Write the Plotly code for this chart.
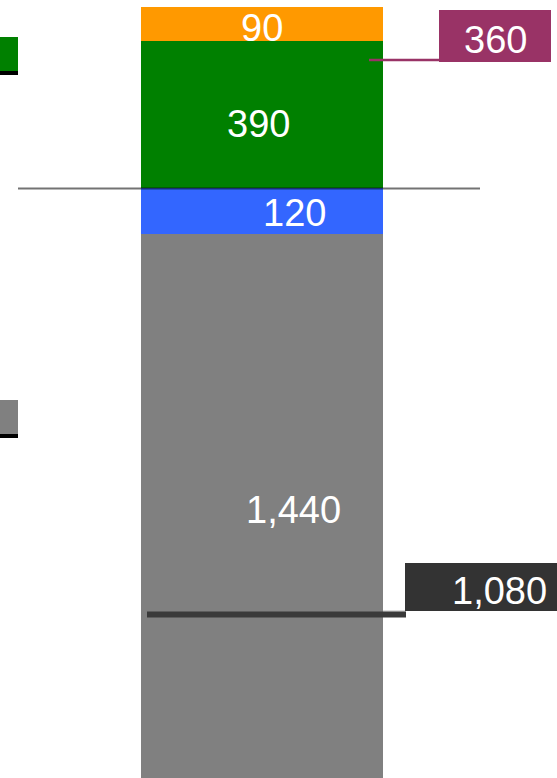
import plotly.graph_objects as go

# single stacked bar, bottom to top
categories = ["Total"]
segment_names = ["Base", "Blue", "Green", "Orange"]
segment_values = [1440, 120, 390, 90]
segment_colors = ["#808080", "#3366FF", "#008000", "#FF9900"]

# callout values
callout_values = [360, 1080]

W, H = 557, 778
FONT = "Liberation Sans, Arial, sans-serif"


def px(x):
    return x / W


def py(y):
    return 1 - y / H


fig = go.Figure()
for name, val, col in zip(segment_names, segment_values, segment_colors):
    fig.add_trace(go.Bar(
        name=name,
        x=[0],
        y=[val],
        marker=dict(color=col, line_width=0),
        width=1,
        hoverinfo="skip",
    ))

fig.update_layout(
    barmode="stack",
    width=W, height=H,
    margin=dict(l=0, r=0, t=0, b=0),
    paper_bgcolor="white",
    plot_bgcolor="white",
    showlegend=False,
    xaxis=dict(range=[-262 / 242, 295 / 242], visible=False, fixedrange=True),
    yaxis=dict(range=[0, 2058.5], visible=False, fixedrange=True),
)

# segment labels, nudged like the original
label_shifts = [(31, -4.5), (32, -1.5), (-4, -9.5), (0, -3.5)]
base = 0
for val, (dx, dy) in zip(segment_values, label_shifts):
    fig.add_annotation(
        x=0, y=base + val / 2, xref="x", yref="y",
        text=f"{val:,}", showarrow=False,
        xshift=dx, yshift=dy,
        xanchor="center", yanchor="middle",
        font=dict(family=FONT, size=38, color="white"),
    )
    base += val

# connector line at top of blue segment
fig.add_shape(type="line", xref="paper", yref="y",
              x0=px(18), x1=px(480),
              y0=sum(segment_values[:2]), y1=sum(segment_values[:2]),
              line=dict(color="rgba(0,0,0,0.55)", width=2))

# maroon callout
fig.add_shape(type="line", xref="paper", yref="paper",
              x0=px(369), x1=px(440), y0=py(60), y1=py(60),
              line=dict(color="#993366", width=2.5))
fig.add_shape(type="rect", xref="paper", yref="paper",
              x0=px(439), x1=px(551), y0=py(62), y1=py(10),
              fillcolor="#993366", line_width=0)
fig.add_annotation(x=px(495), y=py(40), xref="paper", yref="paper",
                   text=f"{callout_values[0]:,}", showarrow=False,
                   xanchor="center", yanchor="middle",
                   font=dict(family=FONT, size=38, color="white"))

# dark callout
fig.add_shape(type="line", xref="paper", yref="paper",
              x0=px(383), x1=px(406), y0=py(611), y1=py(611),
              line=dict(color="#bbbbbb", width=1))
fig.add_shape(type="line", xref="paper", yref="paper",
              x0=px(147), x1=px(406), y0=py(614.5), y1=py(614.5),
              line=dict(color="#3a3a3a", width=6))
fig.add_shape(type="rect", xref="paper", yref="paper",
              x0=px(405), x1=px(560), y0=py(611), y1=py(563),
              fillcolor="#333333", line_width=0)
fig.add_annotation(x=px(499), y=py(591), xref="paper", yref="paper",
                   text=f"{callout_values[1]:,}", showarrow=False,
                   xanchor="center", yanchor="middle",
                   font=dict(family=FONT, size=38, color="white"))

# clipped legend keys at the left edge
for top, col in [(37, "#008000"), (400, "#808080")]:
    fig.add_shape(type="rect", xref="paper", yref="paper",
                  x0=0, x1=px(18), y0=py(top + 34), y1=py(top),
                  fillcolor=col, line_width=0)
    fig.add_shape(type="rect", xref="paper", yref="paper",
                  x0=0, x1=px(18), y0=py(top + 38), y1=py(top + 34),
                  fillcolor="black", line_width=0)

fig.write_html("out.html", config={"displayModeBar": False},
               post_script="document.body.style.margin='0';")
